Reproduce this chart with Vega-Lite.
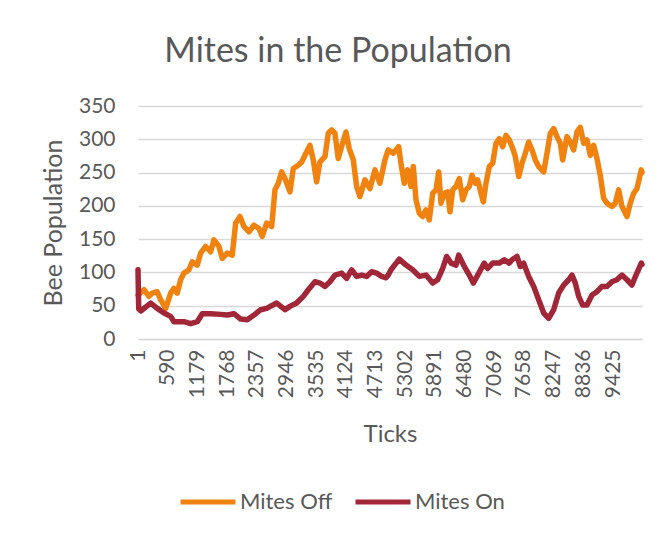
{
"$schema": "https://vega.github.io/schema/vega-lite/v6.json",
"width": 504, "height": 233,
"autosize": {"type": "none"},
"padding": {"left": 138, "top": 106, "right": 21, "bottom": 196},
"background": "white",
"title": {"text": "Mites in the Population", "fontSize": 34, "font": "Lato", "fontWeight": "normal", "color": "#595959", "anchor": "middle", "dx": -52, "offset": 44, "dy": 45, "baseline": "alphabetic"},
"config": {"view": {"stroke": null}, "font": "Lato"},
"data": {"values": [
{"t":1,"v":66,"s":"Mites Off"},{"t":120,"v":74,"s":"Mites Off"},{"t":218,"v":64,"s":"Mites Off"},{"t":284,"v":69,"s":"Mites Off"},{"t":383,"v":71,"s":"Mites Off"},{"t":450,"v":59,"s":"Mites Off"},{"t":550,"v":46,"s":"Mites Off"},{"t":649,"v":69,"s":"Mites Off"},{"t":714,"v":76,"s":"Mites Off"},{"t":780,"v":69,"s":"Mites Off"},{"t":847,"v":89,"s":"Mites Off"},{"t":913,"v":99,"s":"Mites Off"},{"t":1012,"v":104,"s":"Mites Off"},{"t":1077,"v":116,"s":"Mites Off"},{"t":1177,"v":111,"s":"Mites Off"},{"t":1244,"v":129,"s":"Mites Off"},{"t":1343,"v":139,"s":"Mites Off"},{"t":1442,"v":131,"s":"Mites Off"},{"t":1508,"v":149,"s":"Mites Off"},{"t":1607,"v":139,"s":"Mites Off"},{"t":1673,"v":121,"s":"Mites Off"},{"t":1772,"v":129,"s":"Mites Off"},{"t":1871,"v":126,"s":"Mites Off"},{"t":1938,"v":174,"s":"Mites Off"},{"t":2024,"v":184,"s":"Mites Off"},{"t":2103,"v":169,"s":"Mites Off"},{"t":2202,"v":161,"s":"Mites Off"},{"t":2301,"v":171,"s":"Mites Off"},{"t":2400,"v":166,"s":"Mites Off"},{"t":2466,"v":154,"s":"Mites Off"},{"t":2553,"v":174,"s":"Mites Off"},{"t":2653,"v":169,"s":"Mites Off"},{"t":2718,"v":224,"s":"Mites Off"},{"t":2784,"v":234,"s":"Mites Off"},{"t":2851,"v":251,"s":"Mites Off"},{"t":2917,"v":241,"s":"Mites Off"},{"t":3016,"v":221,"s":"Mites Off"},{"t":3081,"v":256,"s":"Mites Off"},{"t":3180,"v":261,"s":"Mites Off"},{"t":3248,"v":266,"s":"Mites Off"},{"t":3313,"v":276,"s":"Mites Off"},{"t":3412,"v":291,"s":"Mites Off"},{"t":3478,"v":269,"s":"Mites Off"},{"t":3545,"v":236,"s":"Mites Off"},{"t":3611,"v":266,"s":"Mites Off"},{"t":3710,"v":274,"s":"Mites Off"},{"t":3776,"v":309,"s":"Mites Off"},{"t":3843,"v":314,"s":"Mites Off"},{"t":3908,"v":309,"s":"Mites Off"},{"t":3974,"v":271,"s":"Mites Off"},{"t":4041,"v":289,"s":"Mites Off"},{"t":4127,"v":311,"s":"Mites Off"},{"t":4192,"v":286,"s":"Mites Off"},{"t":4272,"v":269,"s":"Mites Off"},{"t":4339,"v":229,"s":"Mites Off"},{"t":4404,"v":214,"s":"Mites Off"},{"t":4504,"v":239,"s":"Mites Off"},{"t":4603,"v":226,"s":"Mites Off"},{"t":4702,"v":254,"s":"Mites Off"},{"t":4801,"v":234,"s":"Mites Off"},{"t":4900,"v":269,"s":"Mites Off"},{"t":4966,"v":284,"s":"Mites Off"},{"t":5066,"v":279,"s":"Mites Off"},{"t":5172,"v":289,"s":"Mites Off"},{"t":5218,"v":264,"s":"Mites Off"},{"t":5284,"v":234,"s":"Mites Off"},{"t":5351,"v":254,"s":"Mites Off"},{"t":5417,"v":229,"s":"Mites Off"},{"t":5463,"v":259,"s":"Mites Off"},{"t":5516,"v":209,"s":"Mites Off"},{"t":5582,"v":189,"s":"Mites Off"},{"t":5649,"v":184,"s":"Mites Off"},{"t":5715,"v":194,"s":"Mites Off"},{"t":5780,"v":179,"s":"Mites Off"},{"t":5848,"v":219,"s":"Mites Off"},{"t":5913,"v":224,"s":"Mites Off"},{"t":5967,"v":251,"s":"Mites Off"},{"t":6012,"v":204,"s":"Mites Off"},{"t":6078,"v":219,"s":"Mites Off"},{"t":6145,"v":221,"s":"Mites Off"},{"t":6191,"v":191,"s":"Mites Off"},{"t":6244,"v":224,"s":"Mites Off"},{"t":6310,"v":229,"s":"Mites Off"},{"t":6375,"v":241,"s":"Mites Off"},{"t":6443,"v":209,"s":"Mites Off"},{"t":6508,"v":224,"s":"Mites Off"},{"t":6574,"v":229,"s":"Mites Off"},{"t":6627,"v":246,"s":"Mites Off"},{"t":6693,"v":234,"s":"Mites Off"},{"t":6740,"v":239,"s":"Mites Off"},{"t":6806,"v":219,"s":"Mites Off"},{"t":6852,"v":206,"s":"Mites Off"},{"t":6905,"v":234,"s":"Mites Off"},{"t":6971,"v":259,"s":"Mites Off"},{"t":7038,"v":264,"s":"Mites Off"},{"t":7103,"v":294,"s":"Mites Off"},{"t":7169,"v":301,"s":"Mites Off"},{"t":7236,"v":289,"s":"Mites Off"},{"t":7302,"v":306,"s":"Mites Off"},{"t":7367,"v":299,"s":"Mites Off"},{"t":7441,"v":285,"s":"Mites Off"},{"t":7487,"v":274,"s":"Mites Off"},{"t":7554,"v":244,"s":"Mites Off"},{"t":7620,"v":264,"s":"Mites Off"},{"t":7685,"v":279,"s":"Mites Off"},{"t":7752,"v":296,"s":"Mites Off"},{"t":7818,"v":284,"s":"Mites Off"},{"t":7883,"v":269,"s":"Mites Off"},{"t":7950,"v":259,"s":"Mites Off"},{"t":8050,"v":251,"s":"Mites Off"},{"t":8115,"v":279,"s":"Mites Off"},{"t":8181,"v":309,"s":"Mites Off"},{"t":8248,"v":316,"s":"Mites Off"},{"t":8313,"v":304,"s":"Mites Off"},{"t":8379,"v":294,"s":"Mites Off"},{"t":8426,"v":269,"s":"Mites Off"},{"t":8512,"v":304,"s":"Mites Off"},{"t":8577,"v":296,"s":"Mites Off"},{"t":8644,"v":284,"s":"Mites Off"},{"t":8710,"v":311,"s":"Mites Off"},{"t":8776,"v":318,"s":"Mites Off"},{"t":8843,"v":294,"s":"Mites Off"},{"t":8909,"v":299,"s":"Mites Off"},{"t":8974,"v":276,"s":"Mites Off"},{"t":9041,"v":291,"s":"Mites Off"},{"t":9107,"v":271,"s":"Mites Off"},{"t":9172,"v":246,"s":"Mites Off"},{"t":9240,"v":211,"s":"Mites Off"},{"t":9305,"v":204,"s":"Mites Off"},{"t":9404,"v":199,"s":"Mites Off"},{"t":9470,"v":204,"s":"Mites Off"},{"t":9537,"v":224,"s":"Mites Off"},{"t":9603,"v":199,"s":"Mites Off"},{"t":9702,"v":184,"s":"Mites Off"},{"t":9768,"v":204,"s":"Mites Off"},{"t":9835,"v":219,"s":"Mites Off"},{"t":9900,"v":226,"s":"Mites Off"},{"t":9986,"v":254,"s":"Mites Off"},{"t":10000,"v":250,"s":"Mites Off"},
{"t":1,"v":104,"s":"Mites On"},{"t":15,"v":45,"s":"Mites On"},{"t":60,"v":42,"s":"Mites On"},{"t":120,"v":46,"s":"Mites On"},{"t":253,"v":54,"s":"Mites On"},{"t":383,"v":46,"s":"Mites On"},{"t":516,"v":39,"s":"Mites On"},{"t":649,"v":34,"s":"Mites On"},{"t":714,"v":26,"s":"Mites On"},{"t":913,"v":26,"s":"Mites On"},{"t":1046,"v":23,"s":"Mites On"},{"t":1177,"v":26,"s":"Mites On"},{"t":1276,"v":38,"s":"Mites On"},{"t":1442,"v":38,"s":"Mites On"},{"t":1641,"v":37,"s":"Mites On"},{"t":1772,"v":36,"s":"Mites On"},{"t":1905,"v":38,"s":"Mites On"},{"t":2038,"v":30,"s":"Mites On"},{"t":2169,"v":29,"s":"Mites On"},{"t":2302,"v":36,"s":"Mites On"},{"t":2435,"v":44,"s":"Mites On"},{"t":2553,"v":46,"s":"Mites On"},{"t":2752,"v":54,"s":"Mites On"},{"t":2917,"v":44,"s":"Mites On"},{"t":3016,"v":49,"s":"Mites On"},{"t":3149,"v":54,"s":"Mites On"},{"t":3281,"v":64,"s":"Mites On"},{"t":3380,"v":74,"s":"Mites On"},{"t":3512,"v":86,"s":"Mites On"},{"t":3611,"v":84,"s":"Mites On"},{"t":3710,"v":79,"s":"Mites On"},{"t":3809,"v":86,"s":"Mites On"},{"t":3908,"v":96,"s":"Mites On"},{"t":4041,"v":99,"s":"Mites On"},{"t":4140,"v":91,"s":"Mites On"},{"t":4239,"v":104,"s":"Mites On"},{"t":4339,"v":94,"s":"Mites On"},{"t":4438,"v":96,"s":"Mites On"},{"t":4537,"v":94,"s":"Mites On"},{"t":4636,"v":101,"s":"Mites On"},{"t":4736,"v":99,"s":"Mites On"},{"t":4835,"v":94,"s":"Mites On"},{"t":4921,"v":92,"s":"Mites On"},{"t":4966,"v":96,"s":"Mites On"},{"t":5020,"v":104,"s":"Mites On"},{"t":5185,"v":120,"s":"Mites On"},{"t":5318,"v":111,"s":"Mites On"},{"t":5450,"v":104,"s":"Mites On"},{"t":5582,"v":94,"s":"Mites On"},{"t":5715,"v":96,"s":"Mites On"},{"t":5848,"v":84,"s":"Mites On"},{"t":5947,"v":89,"s":"Mites On"},{"t":6046,"v":106,"s":"Mites On"},{"t":6125,"v":124,"s":"Mites On"},{"t":6211,"v":114,"s":"Mites On"},{"t":6310,"v":111,"s":"Mites On"},{"t":6363,"v":126,"s":"Mites On"},{"t":6474,"v":109,"s":"Mites On"},{"t":6574,"v":96,"s":"Mites On"},{"t":6653,"v":84,"s":"Mites On"},{"t":6740,"v":96,"s":"Mites On"},{"t":6871,"v":114,"s":"Mites On"},{"t":6938,"v":106,"s":"Mites On"},{"t":7038,"v":114,"s":"Mites On"},{"t":7169,"v":114,"s":"Mites On"},{"t":7268,"v":119,"s":"Mites On"},{"t":7367,"v":114,"s":"Mites On"},{"t":7421,"v":119,"s":"Mites On"},{"t":7520,"v":124,"s":"Mites On"},{"t":7585,"v":109,"s":"Mites On"},{"t":7652,"v":114,"s":"Mites On"},{"t":7752,"v":94,"s":"Mites On"},{"t":7851,"v":79,"s":"Mites On"},{"t":7950,"v":59,"s":"Mites On"},{"t":8050,"v":39,"s":"Mites On"},{"t":8149,"v":31,"s":"Mites On"},{"t":8248,"v":44,"s":"Mites On"},{"t":8347,"v":69,"s":"Mites On"},{"t":8446,"v":81,"s":"Mites On"},{"t":8545,"v":89,"s":"Mites On"},{"t":8611,"v":96,"s":"Mites On"},{"t":8677,"v":84,"s":"Mites On"},{"t":8744,"v":64,"s":"Mites On"},{"t":8823,"v":51,"s":"Mites On"},{"t":8909,"v":51,"s":"Mites On"},{"t":9008,"v":66,"s":"Mites On"},{"t":9107,"v":71,"s":"Mites On"},{"t":9206,"v":79,"s":"Mites On"},{"t":9305,"v":79,"s":"Mites On"},{"t":9404,"v":86,"s":"Mites On"},{"t":9503,"v":89,"s":"Mites On"},{"t":9603,"v":96,"s":"Mites On"},{"t":9702,"v":89,"s":"Mites On"},{"t":9801,"v":81,"s":"Mites On"},{"t":9881,"v":96,"s":"Mites On"},{"t":9986,"v":114,"s":"Mites On"},{"t":10000,"v":112,"s":"Mites On"}
]},
"mark": {"type": "line", "strokeWidth": 5.5, "strokeJoin": "round", "strokeCap": "round"},
"encoding": {
"x": {"field": "t", "type": "quantitative", "scale": {"domain": [1, 10000], "nice": false, "zero": false},
"axis": {"title": "Ticks", "values": [1,590,1179,1768,2357,2946,3535,4124,4713,5302,5891,6480,7069,7658,8247,8836,9425], "format": "d", "labelAngle": -90, "labelFontSize": 21, "labelColor": "#595959", "labelFont": "Lato", "labelPadding": 10, "ticks": false, "domain": true, "domainColor": "#D9D9D9", "domainWidth": 1.5, "grid": false, "labelFlush": false, "labelOverlap": false, "titleFontSize": 24, "titleColor": "#595959", "titleFont": "Lato", "titleFontWeight": "normal", "titlePadding": 25}},
"y": {"field": "v", "type": "quantitative", "scale": {"domain": [0, 350], "nice": false},
"axis": {"title": "Bee Population", "values": [0,50,100,150,200,250,300,350], "labelFontSize": 21, "labelColor": "#595959", "labelFont": "Lato", "labelPadding": 23, "ticks": false, "domain": false, "grid": true, "gridColor": "#D9D9D9", "gridWidth": 1.5, "labelOverlap": false, "titleFontSize": 25, "titleColor": "#595959", "titleFont": "Lato", "titleFontWeight": "normal", "titlePadding": 12}},
"color": {"field": "s", "type": "nominal", "scale": {"domain": ["Mites Off", "Mites On"], "range": ["#F08210", "#A12638"]},
"legend": {"orient": "none", "legendX": 40, "legendY": 366, "direction": "horizontal", "title": null, "symbolType": "stroke", "symbolSize": 3025, "symbolStrokeWidth": 5, "labelFontSize": 22, "labelColor": "#595959", "labelFont": "Lato", "labelOffset": 2, "columnPadding": 12}}
}
}
